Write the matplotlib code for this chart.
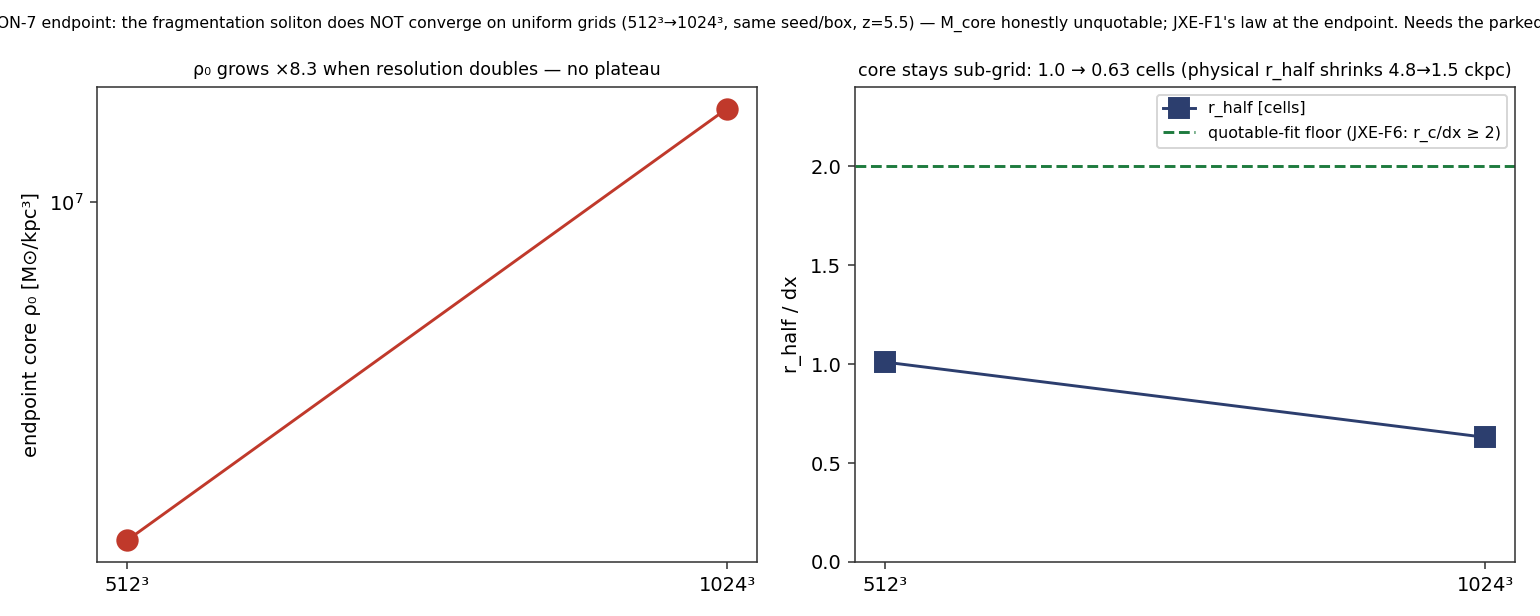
import matplotlib
matplotlib.use("Agg")
import matplotlib.pyplot as plt
import numpy as np

resolutions = ["512³", "1024³"]
rho0 = [1.90e6, 1.58e7]
r_half_cells = [1.01, 0.63]
floor_value = 2.0

suptitle = ("RESOLUTION-7 endpoint: the fragmentation soliton does NOT converge on uniform grids "
            "(512³→1024³, same seed/box, z=5.5) — M_core honestly unquotable; JXE-F1's law at the "
            "endpoint. Needs the parked AMR run.")
title_left = "ρ₀ grows ×8.3 when resolution doubles — no plateau"
title_right = "core stays sub-grid: 1.0 → 0.63 cells (physical r_half shrinks 4.8→1.5 ckpc)"

red = "#c0392b"
navy = "#2c3e6e"
green = "#1e7b3e"
spine_c = "#333333"

plt.rcParams["font.family"] = ["DejaVu Sans"]
fig = plt.figure(figsize=(11, 4.4), dpi=140)
ax1 = fig.add_axes([0.063, 0.0877, 0.4286, 0.7711])
ax2 = fig.add_axes([0.5552, 0.0877, 0.4286, 0.7711])

x = np.arange(len(resolutions))

ax1.plot(x, rho0, "-o", color=red, lw=1.5, ms=10.5)
ax1.set_yscale("log")
ax1.minorticks_off()
ax1.set_xticks(x)
ax1.set_xticklabels(resolutions)
ax1.set_ylabel("endpoint core ρ₀ [M⊙/kpc³]")
ax1.set_title(title_left, fontsize=9)

ax2.plot(x, r_half_cells, "-s", color=navy, lw=1.5, ms=10.5, label="r_half [cells]")
ax2.axhline(floor_value, color=green, ls="--", lw=1.5, label="quotable-fit floor (JXE-F6: r_c/dx ≥ 2)")
ax2.set_ylim(0, 2.4)
ax2.set_xticks(x)
ax2.set_xticklabels(resolutions)
ax2.set_ylabel("r_half / dx")
ax2.set_title(title_right, fontsize=9)
ax2.legend(loc="upper right", fontsize=8.15)

for ax in (ax1, ax2):
    for s in ax.spines.values():
        s.set_color(spine_c)
    ax.tick_params(color=spine_c)

fig.suptitle(suptitle, fontsize=8.1, y=0.975)
fig.savefig("out.png", dpi=140)
